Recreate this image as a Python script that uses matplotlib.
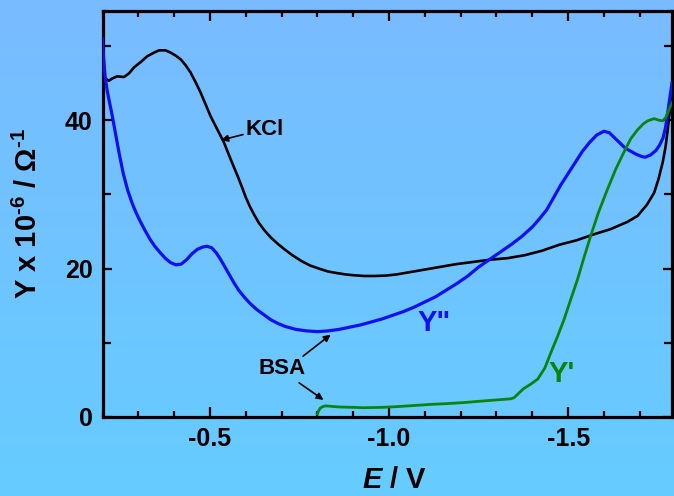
import numpy as np
import matplotlib
matplotlib.use("Agg")
import matplotlib.pyplot as plt
from matplotlib.ticker import MultipleLocator

plt.rcParams['font.family'] = ['Liberation Sans', 'DejaVu Sans']
plt.rcParams['font.weight'] = 'bold'
plt.rcParams['mathtext.fontset'] = 'custom'
plt.rcParams['mathtext.rm'] = 'Liberation Sans:bold'
plt.rcParams['mathtext.it'] = 'Liberation Sans:italic:bold'
plt.rcParams['mathtext.bf'] = 'Liberation Sans:bold'
plt.rcParams['mathtext.default'] = 'rm'

# Admittance in KCl (black)
E_kcl = [-0.200, -0.204, -0.218, -0.227, -0.241, -0.260, -0.274, -0.288, -0.306, -0.325,
         -0.344, -0.358, -0.376, -0.390, -0.404, -0.418, -0.432, -0.446, -0.460, -0.474,
         -0.488, -0.502, -0.521, -0.539, -0.558, -0.577, -0.590, -0.600, -0.612, -0.624,
         -0.636, -0.648, -0.660, -0.672, -0.690, -0.708, -0.730, -0.756, -0.780, -0.804,
         -0.830, -0.853, -0.880, -0.901, -0.930, -0.960, -0.990, -1.020, -1.044, -1.092,
         -1.140, -1.188, -1.236, -1.283, -1.331, -1.379, -1.427, -1.475, -1.523, -1.571,
         -1.618, -1.666, -1.694, -1.720, -1.740, -1.752, -1.764, -1.772, -1.778, -1.784,
         -1.790, -1.796]
Y_kcl = [46.0, 45.7, 45.3, 45.6, 45.9, 45.8, 46.3, 47.1, 47.8, 48.6,
         49.1, 49.4, 49.4, 49.1, 48.7, 48.2, 47.4, 46.4, 45.1, 43.7,
         42.1, 40.5, 38.7, 37.0, 34.7, 32.5, 30.9, 29.6, 28.3, 27.2,
         26.2, 25.4, 24.7, 24.1, 23.3, 22.6, 21.8, 21.0, 20.4, 20.0,
         19.6, 19.4, 19.2, 19.1, 19.0, 19.0, 19.05, 19.2, 19.4, 19.8,
         20.2, 20.6, 20.9, 21.2, 21.4, 21.8, 22.4, 23.2, 23.8, 24.6,
         25.3, 26.3, 27.1, 28.6, 30.2, 32.0, 34.3, 36.4, 38.7, 41.3,
         44.5, 49.0]

# BSA, imaginary component Y'' (blue)
E_ypp = [-0.200, -0.203, -0.207, -0.213, -0.220, -0.228, -0.237, -0.247, -0.258, -0.270,
         -0.282, -0.293, -0.305, -0.318, -0.332, -0.346, -0.360, -0.375, -0.390, -0.405,
         -0.420, -0.435, -0.450, -0.465, -0.480, -0.492, -0.505, -0.518, -0.530, -0.542,
         -0.555, -0.568, -0.580, -0.595, -0.610, -0.630, -0.650, -0.670, -0.690, -0.710,
         -0.740, -0.770, -0.800, -0.830, -0.860, -0.890, -0.920, -0.950, -0.980, -1.010,
         -1.040, -1.070, -1.100, -1.130, -1.160, -1.190, -1.220, -1.250, -1.280, -1.310,
         -1.340, -1.370, -1.400, -1.420, -1.440, -1.460, -1.480, -1.500, -1.520, -1.540,
         -1.560, -1.580, -1.600, -1.615, -1.630, -1.645, -1.660, -1.675, -1.690, -1.705,
         -1.715, -1.730, -1.745, -1.755, -1.765, -1.772, -1.778, -1.784, -1.790]
Y_ypp = [51.0, 48.5, 46.0, 44.0, 42.3, 40.4, 38.0, 35.4, 32.8, 30.6,
         28.9, 27.6, 26.4, 25.2, 24.0, 23.0, 22.2, 21.4, 20.8, 20.5,
         20.6, 21.2, 22.0, 22.6, 22.9, 23.0, 22.8, 22.1, 21.2, 20.2,
         19.1, 18.0, 17.1, 16.2, 15.4, 14.5, 13.8, 13.1, 12.6, 12.2,
         11.8, 11.6, 11.5, 11.6, 11.8, 12.1, 12.4, 12.8, 13.2, 13.7,
         14.2, 14.8, 15.5, 16.2, 17.1, 18.0, 19.0, 20.2, 21.2, 22.2,
         23.2, 24.3, 25.6, 26.7, 27.9, 29.6, 31.3, 32.8, 34.3, 35.8,
         37.0, 38.0, 38.5, 38.3, 37.6, 36.9, 36.2, 35.8, 35.4, 35.1,
         35.0, 35.3, 35.9, 36.6, 37.6, 39.0, 41.0, 43.0, 45.0]

# BSA, real component Y' (green)
E_yp = [-0.800, -0.803, -0.808, -0.815, -0.823, -0.860, -0.900, -0.930, -0.980, -1.023,
        -1.070, -1.117, -1.160, -1.210, -1.260, -1.300, -1.340, -1.349, -1.360, -1.375,
        -1.395, -1.415, -1.435, -1.452, -1.470, -1.489, -1.507, -1.526, -1.545, -1.563,
        -1.585, -1.610, -1.633, -1.657, -1.675, -1.694, -1.710, -1.722, -1.740, -1.752,
        -1.764, -1.772, -1.778, -1.785, -1.792]
Y_yp = [0.4, 0.8, 1.2, 1.4, 1.5, 1.35, 1.3, 1.25, 1.3, 1.4,
        1.55, 1.7, 1.8, 1.95, 2.15, 2.3, 2.45, 2.6, 3.1, 3.8,
        4.4, 5.1, 6.6, 8.7, 10.8, 13.2, 15.8, 18.5, 21.6, 24.4,
        27.6, 30.7, 33.4, 35.8, 37.5, 38.7, 39.5, 39.9, 40.2, 40.0,
        39.9, 40.3, 41.0, 41.8, 42.5]

x_major = [-0.5, -1.0, -1.5]
x_major_labels = ["-0.5", "-1.0", "-1.5"]
y_major = [0, 20, 40]
y_major_labels = ["0", "20", "40"]

W, H = 674, 496
fig = plt.figure(figsize=(W / 100, H / 100), dpi=100)

# vertical background gradient
bg = fig.add_axes([0, 0, 1, 1], zorder=-10)
top = np.array([0.475, 0.735, 1.0])
bot = np.array([0.400, 0.800, 1.0])
t = np.linspace(0, 1, 256)[:, None, None]
grad = top * (1 - t) + bot * t
grad = np.repeat(grad, 4, axis=1)
bg.imshow(grad, aspect='auto', extent=[0, 1, 0, 1])
bg.set_axis_off()

left_px, right_px, top_px, bottom_px = 102.5, 672.0, 11.0, 417.0
ax = fig.add_axes([left_px / W, 1 - bottom_px / H,
                   (right_px - left_px) / W, (bottom_px - top_px) / H])
ax.set_facecolor('none')

ax.plot(E_kcl, Y_kcl, color='black', lw=1.9, zorder=3)
ax.plot(E_ypp, Y_ypp, color='#1010f0', lw=2.3, zorder=3)
ax.plot(E_yp, Y_yp, color='#0a850a', lw=2.0, zorder=3)

ax.set_xlim(-0.2, -1.79)
ax.set_ylim(0, 54.7)

ax.set_xticks(x_major)
ax.set_xticklabels(x_major_labels)
ax.xaxis.set_minor_locator(MultipleLocator(0.1))
ax.set_yticks(y_major)
ax.set_yticklabels(y_major_labels)
ax.yaxis.set_minor_locator(MultipleLocator(10))

for s in ax.spines.values():
    s.set_linewidth(2.3)

ax.tick_params(axis='both', which='both', direction='in', top=True, right=True,
               width=1.6, labelsize=18)
ax.tick_params(axis='x', which='major', length=7, pad=7)
ax.tick_params(axis='x', which='minor', length=4)
ax.tick_params(axis='y', which='major', length=6.5, pad=7)
ax.tick_params(axis='y', which='minor', length=5.5)
for lab in ax.get_xticklabels() + ax.get_yticklabels():
    lab.set_fontweight('bold')

ax.set_xlabel(r'$\mathit{E}$ / V', fontsize=21, fontweight='bold')
ax.xaxis.set_label_coords(0.513, -0.12)
ax.set_ylabel('Y x 10$^{\u2010 6}$ / Ω$^{\u20101}$', fontsize=21, fontweight='bold')
ax.yaxis.set_label_coords(-0.105, 0.5)

arrow_kw = dict(arrowstyle='-|>', color='black', lw=1.2, mutation_scale=10,
                shrinkA=0, shrinkB=0)

ax.annotate('KCl', xy=(-0.531, 37.3), xytext=(-0.60, 38.8), fontsize=16,
            fontweight='bold', ha='left', va='center', arrowprops=arrow_kw)

ax.text(-0.702, 6.6, 'BSA', fontsize=16, fontweight='bold', ha='center', va='center')
ax.annotate('', xy=(-0.837, 11.1), xytext=(-0.760, 8.2), arrowprops=arrow_kw)
ax.annotate('', xy=(-0.817, 2.3), xytext=(-0.749, 4.6), arrowprops=arrow_kw)

ax.text(-1.126, 12.6, 'Y"', color='#1010f0', fontsize=21, fontweight='bold',
        ha='center', va='center')
ax.text(-1.483, 5.8, "Y'", color='#0a850a', fontsize=21, fontweight='bold',
        ha='center', va='center')

fig.savefig('out.png', dpi=100)
